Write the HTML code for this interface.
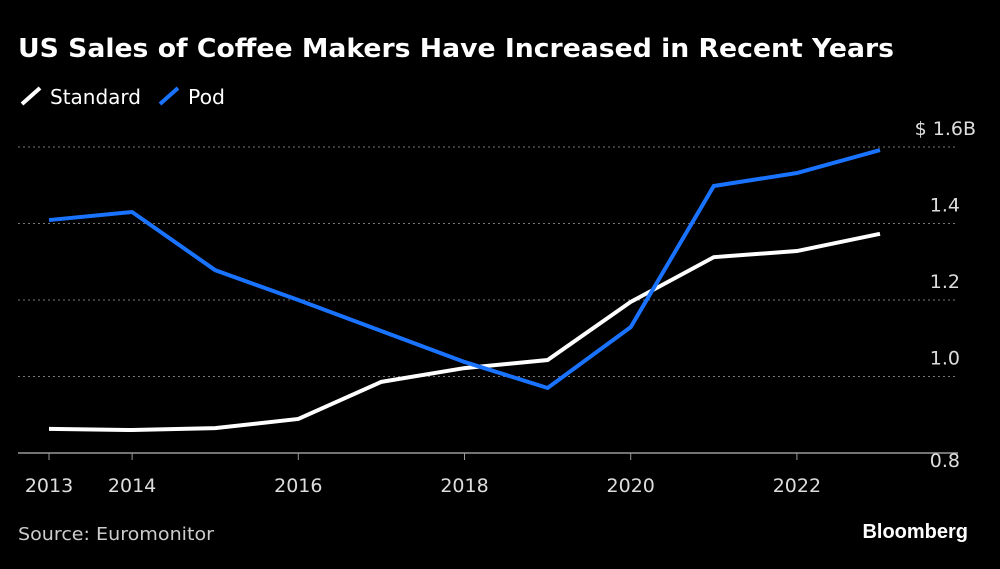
<!DOCTYPE html>
<html><head><meta charset="utf-8"><style>
body{margin:0;background:#000;width:1000px;height:564px;overflow:hidden;font-family:"Liberation Sans",sans-serif;color:#fff}
</style></head><body>
<svg width="1000" height="564" xmlns="http://www.w3.org/2000/svg">
<text x="18" y="57" font-size="26" font-weight="bold" fill="#fff" textLength="876" lengthAdjust="spacingAndGlyphs" font-family="DejaVu Sans, sans-serif">US Sales of Coffee Makers Have Increased in Recent Years</text>
<g>
<line x1="22" y1="104" x2="40" y2="88" stroke="#fff" stroke-width="4"/>
<text x="50" y="104" font-size="20" fill="#fff" textLength="91" lengthAdjust="spacingAndGlyphs" font-family="DejaVu Sans, sans-serif">Standard</text>
<line x1="160" y1="104" x2="178" y2="88" stroke="#1a73ff" stroke-width="4"/>
<text x="188" y="104" font-size="20" fill="#fff" textLength="37" lengthAdjust="spacingAndGlyphs" font-family="DejaVu Sans, sans-serif">Pod</text>
</g>
<g id="grid"></g><g id="xt"></g><g id="lines"></g>
<text x="18" y="540" font-size="18" fill="#ccc" textLength="196" lengthAdjust="spacingAndGlyphs" font-family="DejaVu Sans, sans-serif">Source: Euromonitor</text>
<text x="968" y="538" font-size="20" font-weight="bold" fill="#fff" text-anchor="end">Bloomberg</text>
</svg>
<script>
const years=[2013,2014,2015,2016,2017,2018,2019,2020,2021,2022,2023];
const standard=[0.863,0.86,0.865,0.889,0.986,1.022,1.043,1.195,1.312,1.328,1.373];
const pod=[1.409,1.43,1.278,1.2,1.119,1.038,0.97,1.129,1.498,1.532,1.592];
const yTicks=[0.8,1.0,1.2,1.4,1.6];
const yTickLabels=["0.8","1.0","1.2","1.4","$ 1.6B"];
const xTicks=[2013,2014,2016,2018,2020,2022];
const NS="http://www.w3.org/2000/svg";
const x=v=>49+(v-2013)*83.1;
const y=v=>453-(v-0.8)*382.5;
const grid=document.getElementById('grid');
yTicks.forEach((t,i)=>{
 const l=document.createElementNS(NS,'line');
 l.setAttribute('x1',18);l.setAttribute('x2',958);l.setAttribute('y1',y(t));l.setAttribute('y2',y(t));
 l.setAttribute('stroke',i==0?'#999':'#777');l.setAttribute('stroke-width',i==0?1.5:1);
 if(i>0)l.setAttribute('stroke-dasharray','2,3');
 
 
 grid.appendChild(l);
 const tx=document.createElementNS(NS,'text');
 tx.setAttribute('x',i==4?976:960);tx.setAttribute('y',y(t)-(i==0?-14:12));tx.setAttribute('text-anchor','end');
 tx.setAttribute('font-size',19);tx.setAttribute('font-family','DejaVu Sans, sans-serif');tx.setAttribute('fill','#ddd');tx.textContent=yTickLabels[i];
 
 
 grid.appendChild(tx);
});
const xt=document.getElementById('xt');
xTicks.forEach(t=>{
 const l=document.createElementNS(NS,'line');
 l.setAttribute('x1',x(t));l.setAttribute('x2',x(t));l.setAttribute('y1',453);l.setAttribute('y2',460);l.setAttribute('stroke','#999');
 
 
 xt.appendChild(l);
 const tx=document.createElementNS(NS,'text');
 tx.setAttribute('x',x(t));tx.setAttribute('y',492);tx.setAttribute('text-anchor','middle');
 tx.setAttribute('font-size',19);tx.setAttribute('font-family','DejaVu Sans, sans-serif');tx.setAttribute('fill','#ddd');tx.textContent=t;
 
 
 xt.appendChild(tx);
});
const lines=document.getElementById('lines');
[[standard,'#fff','standard-line'],[pod,'#1a73ff','pod-line']].forEach(([d,c,n])=>{
 const p=document.createElementNS(NS,'polyline');
 p.setAttribute('points',d.map((v,i)=>x(years[i])+','+y(v)).join(' '));
 p.setAttribute('fill','none');p.setAttribute('stroke',c);p.setAttribute('stroke-width',4);
 
 
 lines.appendChild(p);
});
</script>
</body></html>
